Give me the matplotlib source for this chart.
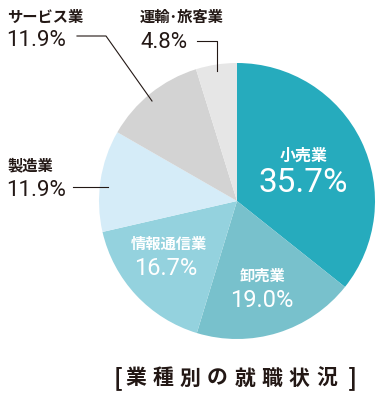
import matplotlib.pyplot as plt
from matplotlib.patches import Wedge

plt.rcParams['font.family'] = ['Noto Sans CJK JP', 'DejaVu Sans']

# data (clockwise from 12 o'clock)
sectors = ['小売業', '卸売業', '情報通信業', '製造業', 'サービス業', '運輸･旅客業']
shares = [35.7, 19.0, 16.7, 11.9, 11.9, 4.8]
colors = ['#26abbd', '#78c1cc', '#94d2de', '#d5ecf8', '#d3d3d3', '#e6e6e6']
title = '業種別の就職状況'

W, H = 390, 402
fig = plt.figure(figsize=(W / 100, H / 100), dpi=100)
ax = fig.add_axes([0, 0, 1, 1])
ax.set_xlim(0, W)
ax.set_ylim(H, 0)
ax.axis('off')

# pie drawn in pixel space (y axis inverted -> angles run clockwise)
cx, cy, r = 237, 202, 138
total = sum(shares)
start = -90
for val, col in zip(shares, colors):
    span = 360 * val / total
    ax.add_patch(Wedge((cx, cy), r, start, start + span, facecolor=col, edgecolor='none'))
    start += span

num_font = dict(family=['Roboto', 'DejaVu Sans'], fontweight='normal')
dark = '#231815'

# labels inside slices
ax.text(304, 156, sectors[0], color='white', fontsize=11.5, fontweight='bold', ha='center', va='center')
ax.text(303, 183, f'{shares[0]}%', color='white', fontsize=24, ha='center', va='center', **num_font)
ax.text(262, 276, sectors[1], color='white', fontsize=11, fontweight='bold', ha='center', va='center')
ax.text(262, 301, f'{shares[1]:.1f}%', color='white', fontsize=17, ha='center', va='center', **num_font)
ax.text(169, 244, sectors[2], color='white', fontsize=11, fontweight='bold', ha='center', va='center')
ax.text(166, 269, f'{shares[2]}%', color='white', fontsize=17, ha='center', va='center', **num_font)

# outside labels
ax.text(7, 17, sectors[4], color=dark, fontsize=11, fontweight='bold', ha='left', va='center')
ax.text(6, 40, f'{shares[4]}%', color=dark, fontsize=16, ha='left', va='center', **num_font)
ax.text(140, 17, sectors[5], color=dark, fontsize=11, fontweight='bold', ha='left', va='center')
ax.text(140, 42, f'{shares[5]}%', color=dark, fontsize=16, ha='left', va='center', **num_font)
ax.text(7, 165, sectors[3], color=dark, fontsize=11, fontweight='bold', ha='left', va='center')
ax.text(6, 191, f'{shares[3]}%', color=dark, fontsize=16, ha='left', va='center', **num_font)

# leader lines
lw = 0.8
ax.plot([77, 106, 152], [37, 37, 102], color=dark, lw=lw)
ax.plot([197, 217, 217], [42, 42, 72], color=dark, lw=lw)
ax.plot([73, 108], [188, 188], color=dark, lw=lw)

# spaced-out caption, one glyph at a time
x0, step, ty = 135.5, 27.3, 378
ax.text(118, ty, '[', color=dark, fontsize=17, fontweight='bold', ha='center', va='center')
for i, ch in enumerate(title):
    ax.text(x0 + i * step, ty, ch, color=dark, fontsize=15, fontweight='bold', ha='center', va='center')
ax.text(x0 + (len(title) - 1) * step + 26, ty, ']', color=dark, fontsize=17, fontweight='bold', ha='center', va='center')

fig.savefig('out.png', dpi=100)
